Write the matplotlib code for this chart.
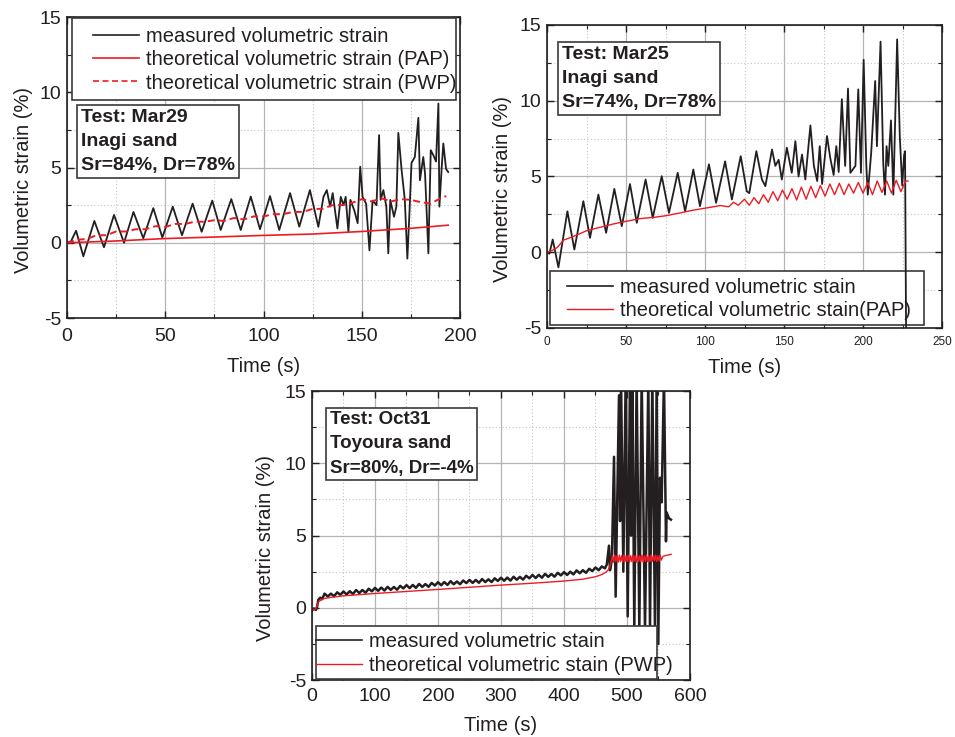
import matplotlib
matplotlib.use("Agg")
import matplotlib.pyplot as plt
from matplotlib.patches import Rectangle
from matplotlib.ticker import MultipleLocator

plt.rcParams["font.family"] = ["Liberation Sans", "DejaVu Sans"]
plt.rcParams["axes.unicode_minus"] = False

BLACK = "#231f20"
RED = "#ed1c24"
EDGE = "#3a3a3a"

# ---- Mar29 (top left) ----
t1_meas = [0, 2, 4.6, 8.3, 13.9, 18.8, 23.9, 29.0, 33.8, 38.8,
           43.9, 48.5, 53.8, 58.5, 63.9, 68.5, 73.9, 78.2, 83.6, 88.4,
           93.5, 98.2, 103.3, 108.0, 113.5, 118.2, 123.6, 127.9, 130.5, 132.2,
           133.9, 135.2, 137.6, 139.3, 140.7, 141.8, 143.2, 144.2, 146.2, 147.9,
           149.2, 150.4, 152.2, 153.9, 155.5, 157.5, 158.8, 159.6, 161.0, 162.5,
           163.5, 164.5, 166.4, 167.6, 168.6, 170.3, 171.9, 173.2, 174.4, 175.3,
           177.0, 178.8, 179.6, 181.3, 182.2, 183.9, 185.1, 186.5, 187.8, 189.0,
           189.5, 190.7, 191.5, 192.9, 194.0]
v1_meas = [0, 0.1, 0.8, -0.9, 1.45, -0.3, 1.85, 0.0, 2.05, 0.3,
           2.3, 0.35, 2.4, 0.5, 2.6, 0.73, 2.8, 0.85, 2.9, 0.85,
           3.07, 0.9, 3.1, 0.85, 3.3, 1.07, 3.5, 1.06, 3.05, 3.5,
           2.4, 3.3, 0.95, 3.05, 2.5, 3.05, 0.73, 2.85, 2.15, 1.3,
           5.05, 3.05, 2.6, -0.5, 2.8, 2.5, 7.15, 2.85, 3.5, 2.4,
           -0.7, 2.85, 1.73, 2.4, 7.3, 4.8, 2.85, -1.05, 2.4, 5.3,
           5.7, 8.3, 4.15, 5.7, 4.6, -0.7, 6.15, 5.8, 5.4, 9.25,
           2.4, 5.05, 6.6, 4.9, 4.7]

t1_pap = [0, 25, 50, 75, 100, 125, 150, 175, 194]
v1_pap = [0, 0.12, 0.28, 0.38, 0.49, 0.58, 0.75, 0.96, 1.17]

t1_pwp = [0, 5, 10, 15, 20, 25, 30, 35, 40, 45,
          50, 55, 60, 65, 70, 75, 80, 85, 90, 95,
          100, 105, 110, 115, 120, 125, 130, 135, 140, 145,
          150, 155, 160, 165, 170, 175, 180, 185, 190, 193]
v1_pwp = [0, 0.2, 0.25, 0.5, 0.5, 0.75, 0.75, 0.9, 0.9, 1.1,
          1.05, 1.25, 1.25, 1.4, 1.4, 1.5, 1.45, 1.65, 1.55, 1.75,
          1.75, 1.9, 1.9, 2.05, 2.05, 2.25, 2.25, 2.5, 2.5, 2.65,
          2.9, 2.75, 2.95, 2.75, 2.9, 2.85, 2.7, 2.6, 2.95, 3.1]

# ---- Mar25 (top right) ----
t2_meas = [0, 1.5, 3.6, 7.2, 12.9, 17.3, 23.0, 27.2, 32.5, 37.4,
           42.6, 47.3, 52.5, 56.8, 62.4, 66.9, 72.6, 77.2, 82.7, 87.4,
           92.6, 96.8, 102.5, 107.0, 112.7, 117.0, 122.6, 126.4, 128.0, 132.5,
           136.0, 138.2, 142.4, 144.5, 146.6, 148.6, 151.8, 154.9, 157.2, 159.2,
           161.4, 163.5, 166.7, 168.9, 171.0, 172.6, 174.1, 177.2, 179.3, 181.4,
           183.1, 184.6, 186.6, 188.7, 190.5, 192.0, 195.2, 197.0, 198.7, 200.4,
           202.1, 203.0, 205.2, 207.7, 208.8, 211.1, 212.8, 213.9, 214.9, 216.0,
           217.7, 219.2, 221.6, 223.3, 224.8, 226.0, 226.6, 227.3]
v2_meas = [0, -0.1, 0.84, -1.0, 2.7, 0.18, 3.37, 0.95, 3.8, 1.28,
           4.18, 1.72, 4.5, 1.94, 4.8, 2.27, 5.02, 2.6, 5.24, 2.7,
           5.46, 3.04, 5.8, 3.26, 6.0, 3.48, 6.34, 4.03, 3.9, 6.67,
           4.8, 4.36, 6.78, 5.7, 6.1, 4.8, 6.9, 5.24, 7.33, 5.0,
           6.45, 4.8, 8.37, 5.7, 4.7, 7.0, 4.5, 7.67, 6.2, 5.1,
           7.0, 5.3, 10.1, 5.7, 10.8, 5.24, 5.7, 10.75, 5.24, 12.7,
           5.7, 3.8, 6.6, 11.3, 7.0, 13.9, 5.9, 3.8, 7.0, 5.7,
           8.7, 3.8, 14.05, 7.6, 4.4, 6.4, 6.67, -6]

t2_pap = [0, 3, 6.3, 10.5, 16.9, 25.3, 33.8, 42.2, 50.6, 59,
          67.5, 75.9, 84.4, 92.8, 101.3, 109.7, 115, 118, 121, 125,
          128, 131, 134, 137, 140, 143, 146, 149, 152, 155,
          158, 161, 164, 167, 170, 173, 176, 179, 182, 185,
          188, 191, 194, 197, 200, 203, 206, 209, 212, 215,
          218, 221, 224, 227, 228.5]
v2_pap = [0, 0.1, 0.3, 0.8, 1.05, 1.43, 1.65, 1.87, 2.05, 2.22,
          2.3, 2.42, 2.6, 2.78, 2.93, 3.08, 3.0, 3.3, 3.1, 3.5,
          3.1, 3.6, 3.2, 3.8, 3.3, 4.0, 3.4, 4.1, 3.5, 4.2,
          3.45, 4.3, 3.5, 4.35, 3.6, 4.4, 3.7, 4.5, 3.8, 4.55,
          3.8, 4.5, 3.9, 4.6, 3.9, 4.6, 3.8, 4.7, 3.95, 4.7,
          3.9, 4.75, 4.0, 4.7, 4.7]

# ---- Oct31 (bottom) ----
t3_meas = [0, 3, 6, 8, 10, 13, 16,
           20, 25, 30, 35, 40, 45, 50, 55, 60, 65,
           70, 75, 80, 85, 90, 95, 100, 105, 110, 115,
           120, 125, 130, 135, 140, 145, 150, 155, 160, 165,
           170, 175, 180, 185, 190, 195, 200, 205, 210, 215,
           220, 225, 230, 235, 240, 245, 250, 255, 260, 265,
           270, 275, 280, 285, 290, 295, 300, 305, 310, 315,
           320, 325, 330, 335, 340, 345, 350, 355, 360, 365,
           370, 375, 380, 385, 390, 395, 400, 405, 410, 415,
           420, 425, 430, 435, 440, 445, 450, 455, 460, 465,
           468, 471.4, 473, 476, 479.4, 482, 487.3, 489, 490.5, 494.2,
           497.9, 501.1, 504.8, 506.5, 508.5, 511.6, 515.3, 519.6, 523.3, 528.6,
           533.9, 536.5, 540.2, 544.4, 547.1, 549.7, 552.4, 555, 558.7, 561.9,
           562.9, 566.5, 569.8]
v3_meas = [-0.2, -0.05, -0.15, 0.05, 0.55, 0.7, 0.6,
           0.98, 0.78, 0.98, 0.8, 1.07, 0.9, 1.13, 0.92, 1.15, 0.95,
           1.23, 1.02, 1.23, 1.04, 1.32, 1.14, 1.38, 1.17, 1.4, 1.19,
           1.45, 1.24, 1.44, 1.25, 1.52, 1.34, 1.57, 1.36, 1.58, 1.38,
           1.65, 1.44, 1.64, 1.45, 1.72, 1.54, 1.77, 1.56, 1.78, 1.58,
           1.84, 1.63, 1.82, 1.63, 1.89, 1.71, 1.93, 1.72, 1.93, 1.73,
           1.99, 1.78, 1.97, 1.78, 2.04, 1.86, 2.08, 1.87, 2.09, 1.88,
           2.15, 1.94, 2.14, 1.95, 2.22, 2.04, 2.27, 2.06, 2.28, 2.08,
           2.35, 2.14, 2.34, 2.15, 2.42, 2.24, 2.47, 2.27, 2.5, 2.31,
           2.59, 2.39, 2.6, 2.42, 2.7, 2.54, 2.79, 2.6, 2.86, 2.73,
           3.0, 4.3, 2.6, 3.3, 10.45, 0.77, 14.7, 6, 16, 2.5,
           16, -0.6, 16, 5, 16, -1.5, 16, -1.5, 16, -1.5,
           16, -1.5, 16, -1.5, 16, -2.5, 9.0, 7.3, 16, 4.6,
           6.6, 6.2, 6.1]

t3_pwp = [0, 5, 8, 10, 15, 20, 30, 50, 100, 150,
          200, 250, 300, 350, 400, 430, 450, 460, 466, 470,
          473, 475.5, 477.0, 478.8, 480.6, 482.4, 484.2, 486.0, 487.8, 489.6,
          491.4, 493.2, 495.0, 496.8, 498.6, 500.4, 502.2, 504.0, 505.8, 507.6,
          509.4, 511.2, 513.0, 514.8, 516.6, 518.4, 520.2, 522.0, 523.8, 525.6,
          527.4, 529.2, 531.0, 532.8, 534.6, 536.4, 538.2, 540.0, 541.8, 543.6,
          545.4, 547.2, 549.0, 550.8, 552.6, 554.4, 557, 560, 565, 570]
v3_pwp = [-0.16, -0.1, 0.1, 0.4, 0.55, 0.65, 0.72, 0.83, 0.99, 1.13,
          1.27, 1.42, 1.57, 1.7, 1.85, 1.98, 2.15, 2.3, 2.45, 2.6,
          2.9, 3.3, 3.6, 3.15, 3.65, 3.2, 3.6, 3.15, 3.65, 3.2,
          3.6, 3.15, 3.65, 3.2, 3.6, 3.2, 3.65, 3.15, 3.6, 3.2,
          3.65, 3.2, 3.6, 3.15, 3.65, 3.2, 3.6, 3.2, 3.65, 3.15,
          3.6, 3.2, 3.65, 3.2, 3.6, 3.2, 3.65, 3.2, 3.6, 3.25,
          3.65, 3.2, 3.6, 3.25, 3.65, 3.3, 3.55, 3.6, 3.65, 3.7]


def style_axes(ax, xmax, xmajor, fs_x, fs_y, xpad, labelpad, ylabel_x, ylabel_y):
    ax.set_xlim(0, xmax)
    ax.set_ylim(-5, 15)
    ax.xaxis.set_major_locator(MultipleLocator(xmajor))
    ax.xaxis.set_minor_locator(MultipleLocator(xmajor / 2))
    ax.yaxis.set_major_locator(MultipleLocator(5))
    ax.yaxis.set_minor_locator(MultipleLocator(2.5))
    ax.grid(which="major", color="#b4b4b4", lw=0.9)
    ax.grid(which="minor", color="#c4c4c4", lw=0.8, ls=(0, (1, 2)))
    ax.tick_params(which="both", direction="in", top=True, right=True,
                   color=BLACK, labelcolor=BLACK)
    ax.tick_params(which="major", length=5, width=1)
    ax.tick_params(which="minor", length=3, width=0.8)
    ax.tick_params(axis="x", labelsize=fs_x, pad=xpad)
    ax.tick_params(axis="y", labelsize=fs_y, pad=4)
    for spine in ax.spines.values():
        spine.set_linewidth(1.2)
        spine.set_color(BLACK)
    ax.set_xlabel("Time (s)", fontsize=14.5, color=BLACK, labelpad=labelpad)
    ax.set_ylabel("Volumetric strain (%)", fontsize=14.5, color=BLACK)
    ax.yaxis.set_label_coords(ylabel_x, ylabel_y)


def add_legend(ax, handles, labels, rect, anchor, zbox):
    x0, y0, x1, y1 = rect
    ax.add_patch(Rectangle((x0, y0), x1 - x0, y1 - y0, transform=ax.transAxes,
                           fc="white", ec=EDGE, lw=1.2, zorder=zbox, clip_on=False))
    leg = ax.legend(handles, labels, loc="upper left", bbox_to_anchor=anchor,
                    frameon=False, borderpad=0, borderaxespad=0, handlelength=2.3,
                    handletextpad=0.35, labelspacing=0.22, fontsize=14.5)
    leg.set_zorder(zbox + 0.5)
    for txt in leg.get_texts():
        txt.set_color(BLACK)
    for line in leg.get_lines():
        line.set_linewidth(min(line.get_linewidth(), 1.2))


def add_info(ax, x, y, text, fs=14):
    ax.text(x, y, text, transform=ax.transAxes, ha="left", va="top", fontsize=fs,
            fontweight="bold", color=BLACK, linespacing=1.55, zorder=4,
            bbox=dict(boxstyle="square,pad=0.2", fc="white", ec=EDGE, lw=1.2))


fig = plt.figure(figsize=(9.55, 7.37), dpi=100)

# top left
ax1 = fig.add_axes([0.0702, 0.5685, 0.4115, 0.4084])
style_axes(ax1, 200, 50, 14, 14, 7, 9, -0.087, 0.457)
h1, = ax1.plot(t1_meas, v1_meas, color=BLACK, lw=1.3)
h2, = ax1.plot(t1_pap, v1_pap, color=RED, lw=1.2)
h3, = ax1.plot(t1_pwp, v1_pwp, color=RED, lw=1.4, ls=(0, (3.6, 2.1)))
add_legend(ax1, [h1, h2, h3],
           ["measured volumetric strain", "theoretical volumetric strain (PAP)",
            "theoretical volumetric strain (PWP)"],
           (0.012, 0.7243, 0.9898, 0.9957), (0.0654, 0.968), 3)
add_info(ax1, 0.036, 0.695, "Test: Mar29\nInagi sand\nSr=84%, Dr=78%")

# top right
ax2 = fig.add_axes([0.5728, 0.555, 0.4136, 0.4111])
style_axes(ax2, 250, 50, 8.5, 14, 6, 7, -0.0886, 0.46)
g1, = ax2.plot(t2_meas, v2_meas, color=BLACK, lw=1.3)
g2, = ax2.plot(t2_pap, v2_pap, color=RED, lw=1.0)
add_legend(ax2, [g1, g2],
           ["measured volumetric stain", "theoretical volumetric stain(PAP)"],
           (0.0076, 0.0099, 0.9544, 0.189), (0.0506, 0.165), 1.8)
add_info(ax2, 0.038, 0.93, "Test: Mar25\nInagi sand\nSr=74%, Dr=78%")

# bottom
ax3 = fig.add_axes([0.3267, 0.0773, 0.3958, 0.3921])
style_axes(ax3, 600, 100, 14, 14, 6, 8, -0.098, 0.457)
k1, = ax3.plot(t3_meas, v3_meas, color=BLACK, lw=1.8)
k2, = ax3.plot(t3_pwp, v3_pwp, color=RED, lw=1.0)
add_legend(ax3, [k1, k2],
           ["measured volumetric stain", "theoretical volumetric stain (PWP)"],
           (0.0106, 0.0035, 0.9127, 0.1879), (0.0106, 0.165), 3)
add_info(ax3, 0.047, 0.93, "Test: Oct31\nToyoura sand\nSr=80%, Dr=-4%", fs=13.5)

fig.savefig("out.png", dpi=100)
